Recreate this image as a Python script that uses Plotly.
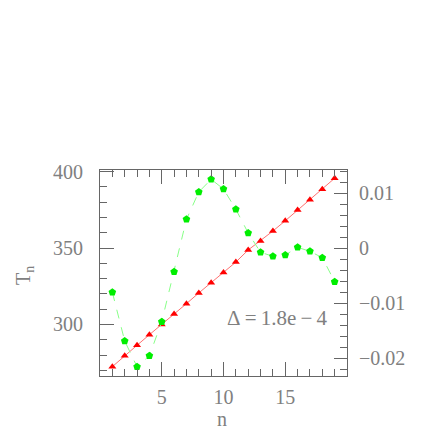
import plotly.graph_objects as go

n_vals = list(range(1, 20))
T_n = [272.4, 279.6, 286.4, 293.3, 299.9, 306.9, 313.6, 320.6, 327.3, 333.9,
       340.8, 348.7, 354.6, 361.1, 367.8, 374.8, 381.6, 388.4, 395.6]
resid = [-0.0080, -0.01685, -0.02153, -0.01953, -0.01335, -0.00425, 0.00527, 0.01024,
         0.01255, 0.01078, 0.00709, 0.00278, -0.00073, -0.00145, -0.00122, 0.00018,
         -0.00055, -0.0017, -0.00607]
x_ticks = [5, 10, 15]
y_ticks = [300, 350, 400]
y2_ticks = [-0.02, -0.01, 0, 0.01]
y2_labels = ["\u22120.02", "\u22120.01", "0", "0.01"]

GRAY = "#808080"
AX = "#666666"
FAM = "Liberation Serif, DejaVu Serif, serif"
FONT = dict(family=FAM, size=20, color=GRAY)

fig = go.Figure()
fig.add_trace(go.Scatter(
    x=n_vals, y=resid, yaxis="y2", mode="lines+markers",
    line=dict(color="#88ff88", width=1, dash="dash"),
    marker=dict(symbol="pentagon", size=8, color="#00ee00", line=dict(width=0)),
    showlegend=False))
fig.add_trace(go.Scatter(
    x=n_vals, y=T_n, mode="lines+markers",
    line=dict(color="#ff7070", width=1),
    marker=dict(symbol="triangle-up", size=7, color="#ff0000", line=dict(width=0)),
    showlegend=False))

# the page body has an 8px margin, so the margins are shifted by 8px
fig.update_layout(
    width=436, height=436,
    margin=dict(l=92, r=97, t=162, b=68),
    paper_bgcolor="white", plot_bgcolor="white",
    font=FONT,
    xaxis=dict(range=[0, 20], tickvals=x_ticks, ticks="inside", ticklen=14,
               tickcolor=AX, linecolor=AX, linewidth=1, mirror="ticks",
               showline=True, showgrid=False, zeroline=False, ticklabelstandoff=3,
               minor=dict(dtick=1, tick0=0, ticks="inside", ticklen=7, tickcolor=AX),
               tickfont=FONT),
    yaxis=dict(range=[266.3, 401.0], tickvals=y_ticks, ticks="inside", ticklen=14,
               tickcolor=AX, linecolor=AX, linewidth=1, showline=True,
               showgrid=False, zeroline=False, ticklabelstandoff=12,
               minor=dict(dtick=10, tick0=0, ticks="inside", ticklen=7, tickcolor=AX),
               tickfont=FONT),
    yaxis2=dict(range=[-0.02322, 0.01424], overlaying="y", side="right",
                tickvals=y2_ticks, ticktext=y2_labels, ticks="inside", ticklen=13,
                tickcolor=AX, linecolor=AX, linewidth=1, showline=True,
                showgrid=False, zeroline=False, ticklabelstandoff=7,
                minor=dict(dtick=0.002, tick0=0, ticks="inside", ticklen=7, tickcolor=AX),
                tickfont=FONT),
    annotations=[
        dict(text="\u0394\u2009=\u20091.8e\u2009\u2212\u20094", xref="paper", yref="paper",
             x=(277 - 100) / 247, y=(376 - 318) / 206, showarrow=False,
             xanchor="center", yanchor="middle",
             font=dict(family=FAM, size=21, color=GRAY)),
        dict(text="n", xref="paper", yref="paper",
             x=(222 - 100) / 247, y=(376 - 419) / 206, showarrow=False,
             xanchor="center", yanchor="middle", font=FONT),
        dict(text="T<sub>n</sub>", xref="paper", yref="paper",
             x=(24 - 100) / 247, y=(376 - 276) / 206, showarrow=False,
             textangle=-90, xanchor="center", yanchor="middle", font=FONT),
    ],
)

fig.write_html("out.html")
